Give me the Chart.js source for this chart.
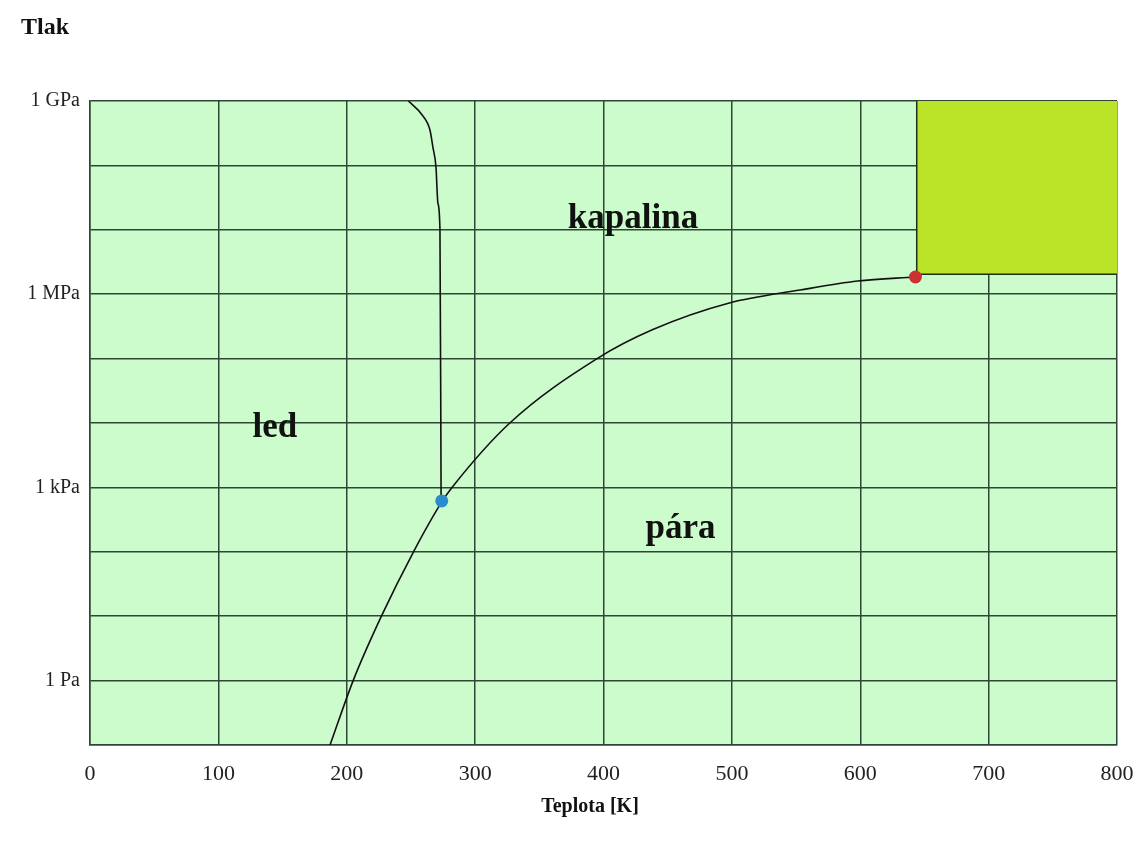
<!DOCTYPE html>
<html>
<head>
<meta charset="utf-8">
<script src="https://cdn.jsdelivr.net/npm/chart.js@4.4.1/dist/chart.umd.min.js"></script>
<style>
  html, body { margin: 0; padding: 0; background: #fff; }
  #wrap { width: 1135px; height: 844px; position: relative; }
</style>
</head>
<body>
<div id="wrap"><canvas id="phase"></canvas></div>
<script>
// phase diagram of water (T in K, p in Pa)
const vaporT = [187, 205, 227, 252, 274.5, 282, 327, 395, 438, 498, 553, 598, 643];
const vaporP = [0.1, 1, 10, 100, 617, 1000, 1e4, 1e5, 2.8e5, 7.3e5, 1.16e6, 1.6e6, 1.85e6];

const meltT = [248, 258.6, 264.8, 267.1, 269.5, 271, 272.6, 273.5];
const meltP = [1e9, 6.1e8, 3.55e8, 1.93e8, 9.4e7, 2.6e7, 1e7, 617];

const tripleT = 274, tripleP = 617;
const criticalT = 643, criticalP = 1.85e6;

// supercritical block
const superT = [644, 644, 800];
const superP = [1e9, 2.04e6, 2.04e6];

const yTickValues = [0.1, 1, 10, 100, 1e3, 1e4, 1e5, 1e6, 1e7, 1e8, 1e9];
const yTickLabels = ['', '1 Pa', '', '', '1 kPa', '', '', '1 MPa', '', '', '1 GPa'];

const regionLabels = ['kapalina', 'led', 'pára'];
const regionT = [423, 144, 460];
const regionP = [1.5e7, 8.5e3, 230];

const serif = '"Liberation Serif", "DejaVu Serif", serif';
const gridColor = '#2e4636';

function toPoints(xs, ys) {
    return xs.map((x, i) => ({ x: x, y: ys[i] }));
}

const decor = {
    id: 'decor',
    beforeDraw(chart) {
        const a = chart.chartArea;
        const ctx = chart.ctx;
        ctx.save();
        ctx.fillStyle = '#ccfccc';
        ctx.fillRect(a.left, a.top, a.right - a.left, a.bottom - a.top);
        ctx.restore();
    },
    afterDatasetsDraw(chart) {
        const ctx = chart.ctx;
        const xs = chart.scales.x, ys = chart.scales.y;
        ctx.save();
        ctx.fillStyle = '#111';
        ctx.textAlign = 'center';
        ctx.textBaseline = 'middle';
        ctx.font = 'bold 35px ' + serif;
        regionLabels.forEach((t, i) => {
            ctx.fillText(t, xs.getPixelForValue(regionT[i]), ys.getPixelForValue(regionP[i]));
        });
        ctx.font = 'bold 24px ' + serif;
        ctx.textAlign = 'left';
        ctx.textBaseline = 'alphabetic';
        ctx.fillText('Tlak', 21, 34);
        ctx.textAlign = 'center';
        ctx.font = 'bold 20px ' + serif;
        ctx.fillText('Teplota [K]', 590, 812);
        ctx.restore();
    }
};

new Chart(document.getElementById('phase'), {
    type: 'scatter',
    data: {
        datasets: [
            {
                label: 'trojný bod',
                data: [{ x: tripleT, y: tripleP }],
                pointRadius: 6.5,
                pointBackgroundColor: '#2a8ccc',
                pointBorderWidth: 0
            },
            {
                label: 'kritický bod',
                data: [{ x: criticalT, y: criticalP }],
                pointRadius: 6.5,
                pointBackgroundColor: '#cc3030',
                pointBorderWidth: 0
            },
            {
                label: 'vypařování',
                data: toPoints(vaporT, vaporP),
                showLine: true,
                borderColor: '#111',
                borderWidth: 1.6,
                pointRadius: 0,
                cubicInterpolationMode: 'monotone'
            },
            {
                label: 'tání',
                data: toPoints(meltT, meltP),
                showLine: true,
                borderColor: '#111',
                borderWidth: 1.6,
                pointRadius: 0,
                cubicInterpolationMode: 'monotone'
            },
            {
                label: 'nadkritická',
                data: toPoints(superT, superP),
                showLine: true,
                borderColor: '#1c3020',
                borderWidth: 1.5,
                backgroundColor: '#bbe428',
                fill: 'end',
                pointRadius: 0
            }
        ]
    },
    options: {
        responsive: true,
        maintainAspectRatio: false,
        animation: false,
        layout: { padding: { top: 101, right: 18, left: 0, bottom: 0 } },
        plugins: {
            legend: { display: false },
            tooltip: { enabled: false }
        },
        scales: {
            x: {
                type: 'linear',
                min: 0,
                max: 800,
                afterFit: s => { s.height = 99; s.paddingLeft = 0; s.paddingRight = 0; },
                grid: { color: gridColor, lineWidth: 1.5, drawTicks: false },
                border: { color: gridColor, width: 1.5 },
                ticks: {
                    stepSize: 100,
                    padding: 16,
                    color: '#222',
                    font: { family: serif, size: 22 }
                }
            },
            y: {
                type: 'logarithmic',
                min: 0.1,
                max: 1e9,
                afterFit: s => { s.width = 90; s.paddingTop = 0; s.paddingBottom = 0; },
                afterBuildTicks: s => { s.ticks = yTickValues.map(v => ({ value: v })); },
                grid: { color: gridColor, lineWidth: 1.5, drawTicks: false },
                border: { color: gridColor, width: 1.5 },
                ticks: {
                    padding: 10,
                    color: '#222',
                    autoSkip: false,
                    font: { family: serif, size: 20 },
                    callback: (v, i) => yTickLabels[i]
                }
            }
        }
    },
    plugins: [decor]
});
</script>
</body>
</html>
